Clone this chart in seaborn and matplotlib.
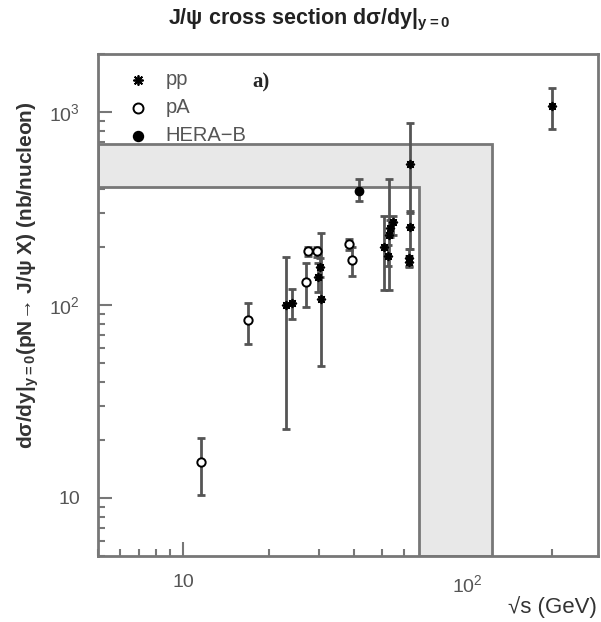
import numpy as np
import matplotlib
matplotlib.use("Agg")
import matplotlib.pyplot as plt
import matplotlib.ticker as mticker
import seaborn as sns

# -------------------------------
# ДАНІ
# -------------------------------
# pp: sqrt(s), value, lower edge, upper edge
pp_x = [23.1, 24.2, 29.9, 30.3, 30.6, 51.2, 52.8, 53.2, 53.6, 54.7, 62.4, 62.7, 63.0, 63.0, 200.0]
pp_y = [100, 103, 140, 158, 107, 200, 180, 230, 250, 270, 176, 168, 253, 540, 1071]
pp_lo = [22.7, 84.5, 117, 140, 48.5, 120, 160, 120, 225, 230, 160, 158, 194, 300, 818]
pp_hi = [177, 121, 165, 176, 237, 290, 205, 448, 275, 290, 194, 180, 308, 880, 1336]

# pA
pa_x = [11.5, 16.9, 27.1, 27.5, 29.6, 38.5, 39.3]
pa_y = [15.3, 83.4, 131, 190, 190, 206, 172]
pa_lo = [10.3, 63, 98, 180, 178, 192, 141]
pa_hi = [20.5, 103, 165, 200, 200, 219, 200]

# HERA-B
hb_x = [41.6]
hb_y = [392]
hb_lo = [345]
hb_hi = [448]

# сіра смуга (L-подібна)
band_x_in, band_x_out = 68, 123
band_y_in, band_y_out = 410, 680

X_MIN, X_MAX = 5, 290
Y_MIN, Y_MAX = 5, 2000

GREY = "#555555"
FRAME = "#777777"

sns.set_style("ticks")
plt.rcParams["font.family"] = ["Liberation Sans", "DejaVu Sans"]
plt.rcParams["mathtext.fontset"] = "custom"
plt.rcParams["mathtext.rm"] = "Liberation Sans"
plt.rcParams["mathtext.bf"] = "Liberation Sans:bold"
plt.rcParams["mathtext.default"] = "regular"

fig = plt.figure(figsize=(6.01, 6.22), dpi=100)
ax = fig.add_axes([98 / 601, 1 - 556 / 622, 500 / 601, 502 / 622])
ax.set_xscale("log")
ax.set_yscale("log")
ax.set_xlim(X_MIN, X_MAX)
ax.set_ylim(Y_MIN, Y_MAX)

# смуга
ax.fill([X_MIN, band_x_out, band_x_out, band_x_in, band_x_in, X_MIN],
        [band_y_out, band_y_out, Y_MIN, Y_MIN, band_y_in, band_y_in],
        facecolor="#e8e8e8", edgecolor=FRAME, linewidth=2, zorder=1)


def draw_errors(x, y, lo, hi):
    y = np.array(y, dtype=float)
    err = [y - np.array(lo), np.array(hi) - y]
    ax.errorbar(x, y, yerr=err, fmt="none", ecolor=GREY, elinewidth=2,
                capsize=3, capthick=2, zorder=2)


draw_errors(pp_x, pp_y, pp_lo, pp_hi)
draw_errors(pa_x, pa_y, pa_lo, pa_hi)
draw_errors(hb_x, hb_y, hb_lo, hb_hi)

sns.scatterplot(x=pp_x, y=pp_y, marker=(8, 2, 0), color="black", s=30,
                linewidth=1.3, label="pp", ax=ax, zorder=3)
sns.scatterplot(x=pa_x, y=pa_y, marker="o", facecolor="white", edgecolor="black",
                s=36, linewidth=1.4, label="pA", ax=ax, zorder=3)
sns.scatterplot(x=hb_x, y=hb_y, marker="o", color="black", edgecolor="black",
                s=36, linewidth=1, label="HERA\u2212B", ax=ax, zorder=3)

# осі
for sp in ax.spines.values():
    sp.set_color(FRAME)
    sp.set_linewidth(2)

ax.xaxis.set_major_locator(mticker.FixedLocator([10, 100]))
ax.xaxis.set_major_formatter(mticker.FixedFormatter(["10", "$10^{2}$"]))
ax.yaxis.set_major_locator(mticker.FixedLocator([10, 100, 1000]))
ax.yaxis.set_major_formatter(mticker.FixedFormatter(["10", "$10^{2}$", "$10^{3}$"]))
for axis in (ax.xaxis, ax.yaxis):
    axis.set_minor_locator(mticker.LogLocator(base=10, subs=np.arange(2, 10), numticks=20))
    axis.set_minor_formatter(mticker.NullFormatter())

ax.tick_params(which="major", direction="in", length=10, width=1.5, color=FRAME,
               labelsize=14, labelcolor=GREY, pad=13)
ax.tick_params(which="minor", direction="in", length=5, width=1.5, color=FRAME)

leg = ax.legend(loc="upper left", bbox_to_anchor=(0.06, 0.968), frameon=False,
                fontsize=14.5, handlelength=1.0, handletextpad=0.85,
                labelspacing=0.45, borderaxespad=0, borderpad=0, markerscale=1.2)
for t in leg.get_texts():
    t.set_color(GREY)

ax.text(0.308, 0.944, "a)", transform=ax.transAxes, fontsize=15,
        fontweight="bold", family="Liberation Serif", va="center", ha="left")

fig.text(309 / 601, 1 - 20 / 622, r"J/ψ cross section dσ/dy|$\mathbf{_{y=0}}$",
         ha="center", va="center", fontsize=15.5, fontweight="bold", color="#222222")
fig.text(28 / 601, 1 - 275 / 622,
         r"dσ/dy|$\mathbf{_{y=0}}$(pN→ J/ψ X) (nb/nucleon)",
         rotation=90, ha="center", va="center", fontsize=15,
         fontweight="bold", color="#333333")
fig.text(597 / 601, 1 - 607 / 622, "√s (GeV)", ha="right", va="center",
         fontsize=16, color="#333333")

fig.savefig("out.png", dpi=100)
